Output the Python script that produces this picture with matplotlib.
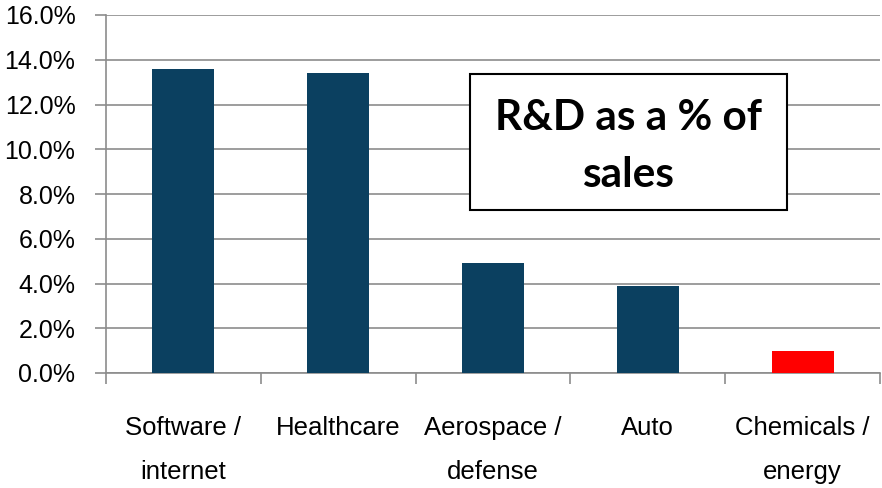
import matplotlib
matplotlib.use("Agg")
import matplotlib.pyplot as plt
from matplotlib.patches import Rectangle
from matplotlib.ticker import FuncFormatter, FixedLocator

categories = ["Software /\ninternet", "Healthcare", "Aerospace /\ndefense", "Auto", "Chemicals /\nenergy"]
values = [13.6, 13.4, 4.9, 3.9, 1.0]
colors = ["#0B4060", "#0B4060", "#0B4060", "#0B4060", "#FF0000"]
yticks = [0, 2, 4, 6, 8, 10, 12, 14, 16]
title_lines = ["R&D as a % of", "sales"]

plt.rcParams['font.family'] = ['Liberation Sans', 'DejaVu Sans']

fig = plt.figure(figsize=(8.82, 4.88), dpi=100)
ax = fig.add_axes([106/882, 1-373/488, 774/882, 358/488])

x = list(range(len(categories)))
ax.bar(x, values, width=0.4, color=colors, zorder=3)
ax.set_xlim(-0.5, len(categories)-0.5)
ax.set_ylim(0, 16)
ax.set_yticks(yticks)
ax.yaxis.set_major_formatter(FuncFormatter(lambda v, p: f"{v:.1f}%"))
ax.grid(axis='y', color='#8C8C8C', linewidth=1.2, zorder=0)
ax.set_axisbelow(True)

for s in ['top', 'right']:
    ax.spines[s].set_visible(False)
for s in ['left', 'bottom']:
    ax.spines[s].set_color('#8C8C8C')
    ax.spines[s].set_linewidth(1.2)

ax.tick_params(axis='y', which='major', length=8, width=1.2, color='#8C8C8C',
               labelsize=18, pad=14)
ax.set_xticks(x)
ax.set_xticklabels(categories, fontsize=18.5, linespacing=2.05)
ax.tick_params(axis='x', which='major', length=0, pad=31)
ax.xaxis.set_minor_locator(FixedLocator([i - 0.5 for i in range(len(categories)+1)]))
ax.tick_params(axis='x', which='minor', length=8, width=1.2, color='#8C8C8C')

# title box
bx0, bx1 = 470/882, 787/882
by0, by1 = 1-210/488, 1-74/488
fig.patches.append(Rectangle((bx0, by0), bx1-bx0, by1-by0, transform=fig.transFigure,
                             facecolor='white', edgecolor='black', linewidth=1.5, zorder=5))
baselines = [1-130/488, 1-187/488]
for line, yb in zip(title_lines, baselines):
    fig.text((bx0+bx1)/2, yb, line, ha='center', va='baseline',
             fontsize=30.5, fontweight='bold', family=['Lato', 'DejaVu Sans'], zorder=6)

fig.savefig("out.png", dpi=100)
